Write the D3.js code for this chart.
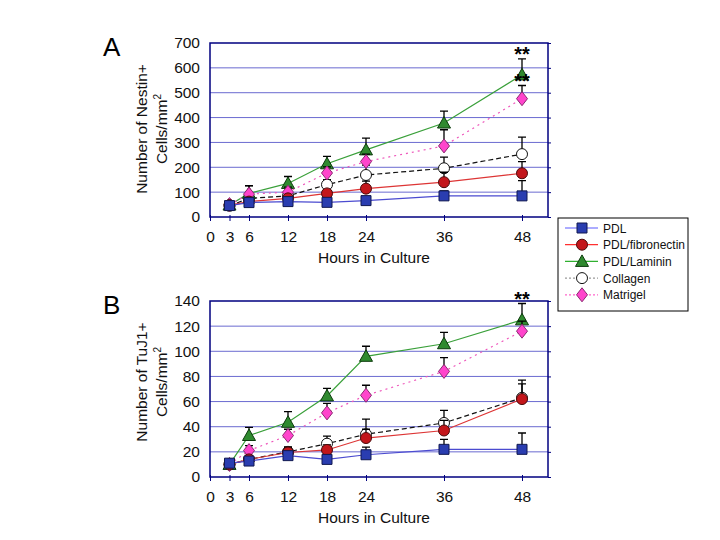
<!DOCTYPE html>
<html>
<head>
<meta charset="utf-8">
<script src="https://cdn.jsdelivr.net/npm/d3@7/dist/d3.min.js"></script>
<style>
  body { margin: 0; background: #fff; }
  svg { display: block; font-family: "Liberation Sans", Arial, sans-serif; }
</style>
</head>
<body>
<svg id="chart" width="720" height="540"></svg>
<script>
// time points (hours)
const hours = [3, 6, 12, 18, 24, 36, 48];
const xTicks = [0, 3, 6, 12, 18, 24, 36, 48];
const seriesNames = ["PDL", "PDL/fibronectin", "PDL/Laminin", "Collagen", "Matrigel"];

// panel A - Nestin+ cells/mm2 (mean, upper error)
const nestinPDL = [46, 58, 62, 59, 66, 85, 85];
const nestinPDLErr = [8, 10, 8, 8, 10, 20, 61];
const nestinFib = [48, 62, 75, 95, 114, 140, 176];
const nestinFibErr = [6, 10, 12, 15, 30, 40, 47];
const nestinLam = [48, 95, 135, 214, 270, 378, 572];
const nestinLamErr = [6, 30, 28, 30, 47, 48, 64];
const nestinCol = [45, 75, 85, 130, 169, 196, 253];
const nestinColErr = [6, 15, 15, 20, 40, 45, 68];
const nestinMat = [50, 92, 100, 177, 223, 286, 476];
const nestinMatErr = [6, 34, 20, 25, 30, 65, 53];
const nestinTicks = [0, 100, 200, 300, 400, 500, 600, 700];

// panel B - TuJ1+ cells/mm2
const tujPDL = [11, 12.7, 17, 14, 17.7, 22, 22];
const tujPDLErr = [2, 2, 3, 3, 6, 8, 13];
const tujFib = [10, 14, 19.5, 21.5, 31, 37, 62];
const tujFibErr = [2, 3, 4, 4, 7, 8, 12];
const tujLam = [10, 33, 43.5, 64.5, 96, 106, 125];
const tujLamErr = [2, 6.5, 8.5, 6, 8, 9, 13];
const tujCol = [10, 14, 20, 26.5, 34, 43, 63];
const tujColErr = [2, 3, 4, 6, 12, 10, 14];
const tujMat = [10, 21, 33, 51, 65, 84, 116];
const tujMatErr = [2, 4, 5, 7.5, 8, 11, 8];
const tujTicks = [0, 20, 40, 60, 80, 100, 120, 140];

// significance marks: [series, hour]
const nestinSig = [["PDL/Laminin", 48], ["Matrigel", 48]];
const tujSig = [["PDL/Laminin", 48]];

const styles = {
    "PDL": { shape: "square", fill: "#2a3db0", stroke: "#101850", line: "#4b4bd0", dash: null, legendLine: "#5a5aff" },
    "PDL/fibronectin": { shape: "circle", fill: "#c3161b", stroke: "#4a0a0a", line: "#dd3535", dash: null, legendLine: "#ff3030" },
    "PDL/Laminin": { shape: "triangle", fill: "#2f8a2f", stroke: "#0c3a0c", line: "#3aa03a", dash: null, legendLine: "#30b030" },
    "Collagen": { shape: "circle", fill: "#ffffff", stroke: "#111111", line: "#111111", dash: "5,3", legendLine: "#999999", legendDash: "2,2" },
    "Matrigel": { shape: "diamond", fill: "#ff44cc", stroke: "#8a2a70", line: "#ee55bb", dash: "2,4", legendLine: "#ff66cc", legendDash: "2,2" }
};
// draw order (later on top)
const drawOrder = ["Collagen", "PDL/Laminin", "Matrigel", "PDL/fibronectin", "PDL"];

const svg = d3.select("#chart");
const font = 15.5;

function symbolPath(shape) {
    if (shape === "square") return "M-5,-5H5V5H-5Z";
    if (shape === "triangle") return "M0,-6.5L6.5,5L-6.5,5Z";
    if (shape === "diamond") return "M0,-7L5.5,0L0,7L-5.5,0Z";
    return d3.symbol(d3.symbolCircle, 95)();
}

function drawPanel(p) {
    const g = svg.append("g");
    const x = d3.scaleLinear().domain([0, 52]).range([210, 548]);
    const y = d3.scaleLinear().domain([0, p.yMax]).range([p.bottom, p.top]);

    // grid
    g.selectAll(".grid")
        .data(p.ticks.slice(1, -1))
        .enter().append("line")
        .attr("x1", x(0)).attr("x2", x(52))
        .attr("y1", d => y(d)).attr("y2", d => y(d))
        .attr("stroke", "#6a6ad0").attr("stroke-width", 1);

    // y axis labels
    const yAxis = g.append("g")
        .attr("transform", "translate(" + x(0) + ",0)")
        .call(d3.axisLeft(y).tickValues(p.ticks).tickSize(0).tickPadding(10));
    yAxis.select(".domain").remove();
    yAxis.selectAll("text").attr("font-size", font).attr("fill", "#111").attr("font-family", null);

    // right axis ticks
    const rAxis = g.append("g")
        .attr("transform", "translate(" + x(52) + ",0)")
        .call(d3.axisRight(y).tickValues(p.ticks).tickSize(3).tickFormat(""));
    rAxis.select(".domain").remove();
    rAxis.selectAll("line").attr("stroke", "#000080");

    // x axis
    const xAxis = g.append("g")
        .attr("transform", "translate(0," + p.bottom + ")")
        .call(d3.axisBottom(x).tickValues(xTicks).tickSize(4).tickPadding(10));
    xAxis.select(".domain").remove();
    xAxis.selectAll("line").attr("y1", -2).attr("stroke", "#000080");
    xAxis.selectAll("text").attr("font-size", font).attr("fill", "#111").attr("font-family", null);

    // frame
    g.append("rect")
        .attr("x", x(0)).attr("y", p.top)
        .attr("width", x(52) - x(0)).attr("height", p.bottom - p.top)
        .attr("fill", "none").attr("stroke", "#000080").attr("stroke-width", 1.5);

    // x title
    g.append("text")
        .attr("x", 374).attr("y", p.bottom + 46)
        .attr("text-anchor", "middle").attr("font-size", font).attr("fill", "#111")
        .text("Hours in Culture");

    // y title
    const yt = g.append("text")
        .attr("transform", "translate(" + 142 + "," + p.titleY + ") rotate(-90)")
        .attr("text-anchor", "middle").attr("font-size", font).attr("fill", "#111");
    yt.append("tspan").attr("x", 0).attr("y", 5).text(p.title);
    const t2 = yt.append("tspan").attr("x", 0).attr("y", 25).text("Cells/mm");
    t2.append("tspan").attr("font-size", 10).attr("dy", -6).text("2");

    // panel letter
    g.append("text").attr("x", 103).attr("y", p.top + 13)
        .attr("font-size", 26).attr("fill", "#000").text(p.letter);

    const line = d3.line().x(d => x(d.h)).y(d => y(d.v));

    drawOrder.forEach(name => {
        const s = p.series[name];
        const st = styles[name];
        const pts = hours.map((h, i) => ({ h: h, v: s.v[i], e: s.e[i] }));
        const sg = g.append("g");
        sg.append("path").datum(pts)
            .attr("d", line).attr("fill", "none")
            .attr("stroke", st.line).attr("stroke-width", 1.2)
            .attr("stroke-dasharray", st.dash);
        // error bars (upper only)
        sg.selectAll(".err").data(pts).enter().append("path")
            .attr("d", d => "M" + x(d.h) + "," + y(d.v) + "V" + y(d.v + d.e)
                + "M" + (x(d.h) - 4) + "," + y(d.v + d.e) + "H" + (x(d.h) + 4))
            .attr("stroke", "#000").attr("stroke-width", 1.3).attr("fill", "none");
        sg.selectAll(".mk").data(pts).enter().append("path")
            .attr("transform", d => "translate(" + x(d.h) + "," + y(d.v) + ")")
            .attr("d", symbolPath(st.shape))
            .attr("fill", st.fill).attr("stroke", st.stroke).attr("stroke-width", 1);
    });

    // significance
    g.selectAll(".sig").data(p.sig).enter().append("text")
        .attr("x", d => x(d[1]))
        .attr("y", d => {
            const s = p.series[d[0]];
            const i = hours.indexOf(d[1]);
            return y(s.v[i] + s.e[i]) + 2;
        })
        .attr("text-anchor", "middle").attr("font-size", 20).attr("font-weight", "bold")
        .attr("fill", "#000").text("**");
}

drawPanel({
    letter: "A", top: 43, bottom: 217, yMax: 700, ticks: nestinTicks, titleY: 129,
    title: "Number of Nestin+",
    series: {
        "PDL": { v: nestinPDL, e: nestinPDLErr },
        "PDL/fibronectin": { v: nestinFib, e: nestinFibErr },
        "PDL/Laminin": { v: nestinLam, e: nestinLamErr },
        "Collagen": { v: nestinCol, e: nestinColErr },
        "Matrigel": { v: nestinMat, e: nestinMatErr }
    },
    sig: nestinSig
});

drawPanel({
    letter: "B", top: 301, bottom: 477, yMax: 140, ticks: tujTicks, titleY: 382,
    title: "Number of TuJ1+",
    series: {
        "PDL": { v: tujPDL, e: tujPDLErr },
        "PDL/fibronectin": { v: tujFib, e: tujFibErr },
        "PDL/Laminin": { v: tujLam, e: tujLamErr },
        "Collagen": { v: tujCol, e: tujColErr },
        "Matrigel": { v: tujMat, e: tujMatErr }
    },
    sig: tujSig
});

// legend
const legend = svg.append("g").attr("transform", "translate(558,218)");
legend.append("rect").attr("width", 130).attr("height", 93)
    .attr("fill", "#fff").attr("stroke", "#000").attr("stroke-width", 1);
const item = legend.selectAll(".item").data(seriesNames).enter().append("g")
    .attr("transform", (d, i) => "translate(0," + (10 + i * 16.7) + ")");
item.append("line").attr("x1", 7).attr("x2", 40)
    .attr("stroke", d => styles[d].legendLine).attr("stroke-width", 1.2)
    .attr("stroke-dasharray", d => styles[d].legendDash || null);
item.append("path").attr("transform", "translate(24,0)")
    .attr("d", d => symbolPath(styles[d].shape))
    .attr("fill", d => styles[d].fill).attr("stroke", d => styles[d].stroke);
item.append("text").attr("x", 45).attr("y", 4.5)
    .attr("font-size", 12).attr("fill", "#111").text(d => d);
</script>
</body>
</html>
